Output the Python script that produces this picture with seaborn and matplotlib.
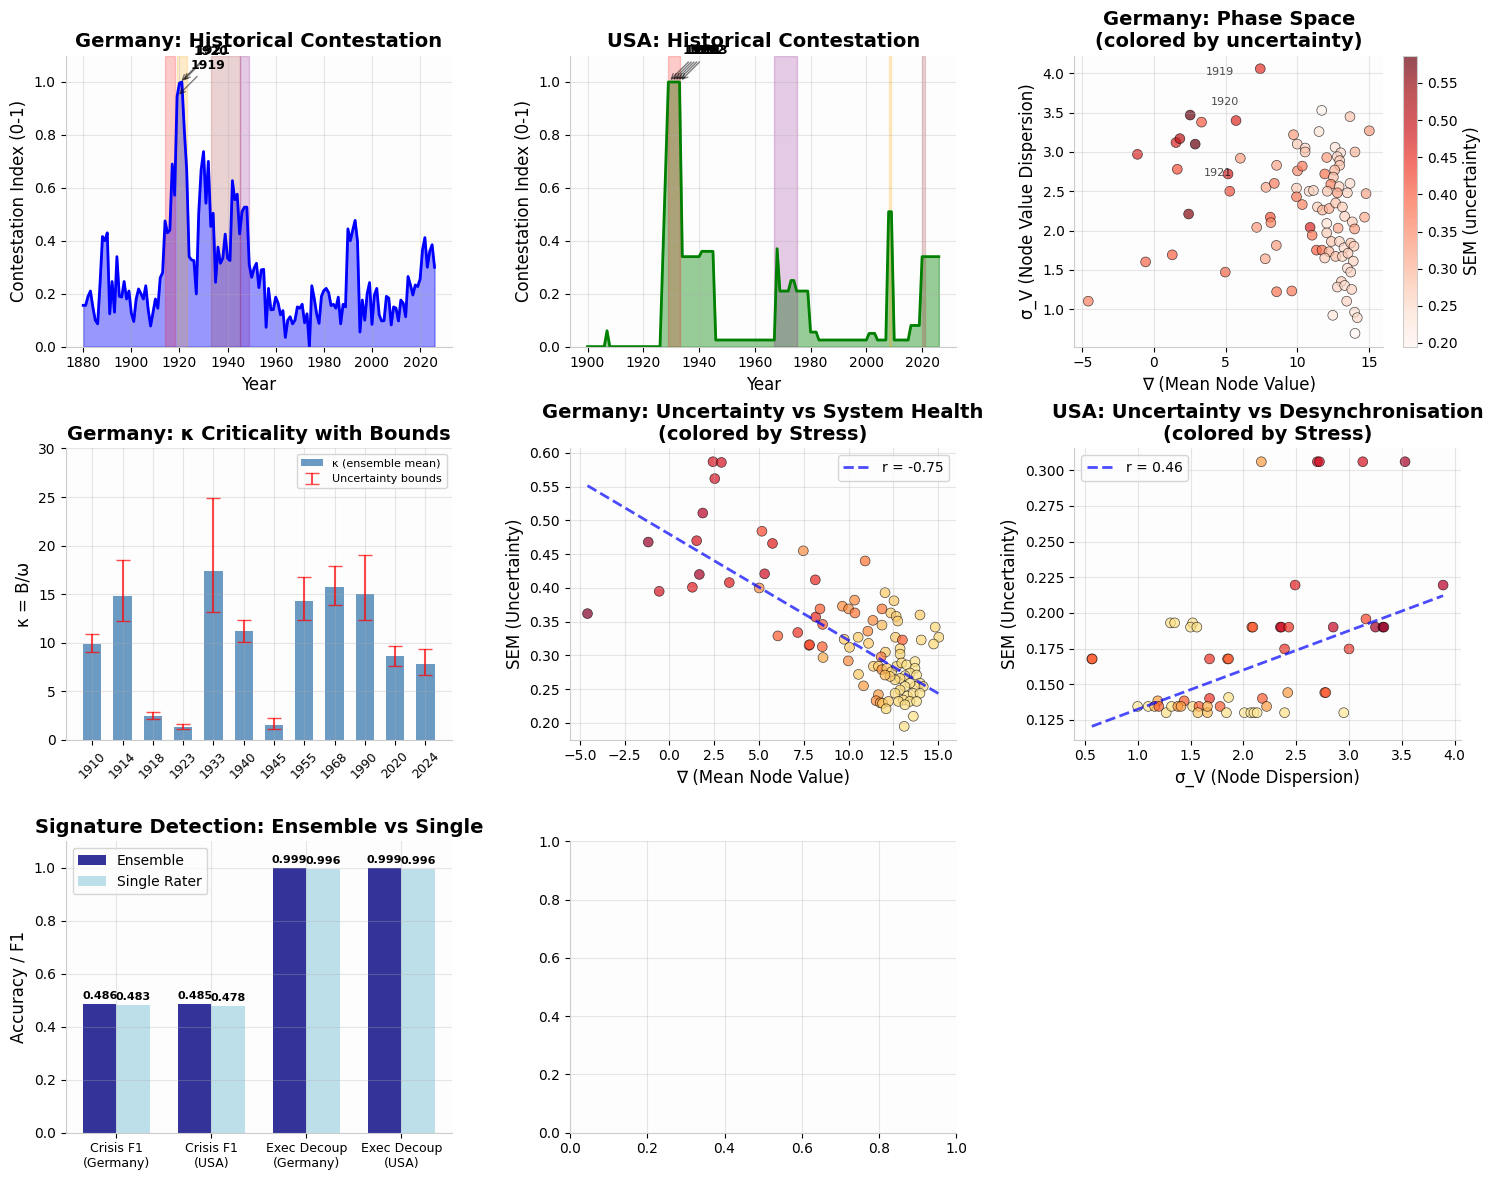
import numpy as np
import pandas as pd
import matplotlib
matplotlib.use("Agg")
import matplotlib.pyplot as plt
import seaborn as sns

# ====== DATA ======
ger_years = list(range(1880, 2027))
ger_contest = [
    0.156, 0.156, 0.19, 0.21, 0.15, 0.10, 0.086, 0.24, 0.416, 0.40,
    0.43, 0.124, 0.246, 0.13, 0.34, 0.19, 0.187, 0.246, 0.18, 0.21,
    0.126, 0.095, 0.18, 0.218, 0.20, 0.18, 0.23, 0.14, 0.078, 0.13,
    0.18, 0.145, 0.26, 0.28, 0.475, 0.43, 0.44, 0.69, 0.572, 0.945,
    0.996, 1.0, 0.82, 0.668, 0.34, 0.328, 0.325, 0.199, 0.504, 0.668,
    0.737, 0.542, 0.70, 0.454, 0.504, 0.243, 0.376, 0.315, 0.334, 0.425,
    0.334, 0.325, 0.627, 0.555, 0.576, 0.426, 0.51, 0.527, 0.527, 0.309,
    0.262, 0.296, 0.315, 0.223, 0.29, 0.292, 0.073, 0.22, 0.139, 0.14,
    0.187, 0.164, 0.12, 0.136, 0.035, 0.10, 0.113, 0.086, 0.10, 0.15,
    0.145, 0.16, 0.09, 0.124, 0.0, 0.23, 0.183, 0.124, 0.088, 0.19,
    0.212, 0.22, 0.204, 0.155, 0.16, 0.145, 0.187, 0.086, 0.16, 0.15,
    0.445, 0.40, 0.44, 0.477, 0.397, 0.055, 0.176, 0.10, 0.20, 0.242,
    0.084, 0.195, 0.22, 0.12, 0.097, 0.098, 0.19, 0.183, 0.082, 0.15,
    0.145, 0.097, 0.176, 0.164, 0.113, 0.265, 0.233, 0.195, 0.233, 0.227,
    0.255, 0.366, 0.412, 0.30, 0.36, 0.385, 0.30,
]
ger_spans = [(1914, 1918, 'red'), (1919, 1923, 'orange'),
             (1933, 1945, 'brown'), (1945, 1949, 'purple')]

usa_years = [1900, 1906, 1907, 1908, 1926, 1929, 1930, 1931, 1932, 1933,
             1934, 1940, 1941, 1945, 1946, 1967, 1968, 1969, 1972, 1973,
             1974, 1975, 1979, 1980, 1982, 1983, 2000, 2001, 2003, 2004,
             2007, 2008, 2009, 2010, 2015, 2016, 2019, 2020, 2026]
usa_contest = [0, 0, 0.06, 0, 0, 1, 1, 1, 1, 1,
               0.34, 0.34, 0.36, 0.36, 0.025, 0.025, 0.37, 0.21, 0.21, 0.25,
               0.25, 0.21, 0.21, 0.055, 0.055, 0.025, 0.025, 0.05, 0.05, 0.025,
               0.025, 0.51, 0.51, 0.025, 0.025, 0.08, 0.08, 0.34, 0.34]
usa_spans = [(1929, 1933, 'red'), (1967, 1975, 'purple'),
             (2008, 2009, 'orange'), (2020, 2021, 'brown')]

# Germany phase space: nabla, sigma_V, SEM
phase_nabla = [
    -4.58, -1.15, -0.58, 1.28, 1.54, 1.63, 1.81, 2.53, 2.42, 2.88, 3.32, 4.98,
    5.17, 5.29, 5.73, 6.03, 7.17, 7.42, 7.77, 7.82, 8.12, 8.16, 8.40, 8.56,
    8.54, 8.56, 9.62, 9.74, 10.0, 10.55, 10.55, 10.02, 10.35, 9.95, 9.95, 10.35,
    10.83, 11.13, 10.9, 11.04, 11.34, 11.73, 11.52, 11.71,
    13.68, 15.03, 12.64, 13.03, 14.03, 12.06, 12.80, 12.96, 12.96, 12.61, 11.92,
    12.52, 12.34, 12.92, 13.68, 12.10, 12.80, 13.50, 14.80, 11.41, 11.76, 12.22,
    12.68, 13.15, 13.31, 14.70, 12.06, 12.85, 13.84, 14.00, 12.06, 12.38, 12.94,
    13.26, 13.73, 13.96, 12.22, 11.92, 12.68, 13.15, 13.54, 13.91, 13.50, 13.73,
    13.08, 12.80, 13.31, 13.80, 13.45, 12.48, 14.00, 14.19, 14.03,
]
phase_sigma = [
    1.10, 2.97, 1.60, 1.69, 3.12, 2.78, 3.17, 3.47, 2.21, 3.10, 3.38, 1.47,
    2.72, 2.50, 3.40, 2.92, 2.04, 4.06, 1.64, 2.55, 2.17, 2.10, 2.60, 2.83,
    1.81, 1.22, 1.23, 3.22, 3.10, 3.05, 3.00, 2.76, 2.82, 2.54, 2.43, 2.33,
    2.50, 2.51, 2.04, 1.94, 1.75, 1.75, 3.26, 3.53,
    3.45, 3.27, 3.06, 2.99, 3.00, 2.93, 2.94, 2.89, 2.83, 2.77, 2.72,
    2.68, 2.59, 2.56, 2.60, 2.50, 2.48, 2.48, 2.47, 2.30, 2.26, 2.28,
    2.35, 2.30, 2.18, 2.17, 2.09, 2.03, 2.11, 2.02, 1.97, 1.86, 1.86,
    1.78, 1.84, 1.80, 1.73, 1.65, 1.67, 1.67, 1.71, 1.61, 1.52, 1.47,
    1.35, 1.28, 1.30, 1.25, 1.10, 0.92, 0.96, 0.89, 0.69,
]
phase_sem = [
    0.362, 0.468, 0.395, 0.401, 0.470, 0.420, 0.511, 0.587, 0.562, 0.586, 0.408, 0.400,
    0.484, 0.421, 0.466, 0.329, 0.334, 0.455, 0.315, 0.316, 0.412, 0.357, 0.369, 0.320,
    0.330, 0.380, 0.374, 0.33, 0.27, 0.26, 0.28, 0.35, 0.37, 0.27, 0.38, 0.36,
    0.25, 0.26, 0.47, 0.38, 0.40, 0.38, 0.24, 0.20,
    0.28, 0.33, 0.24, 0.25, 0.30, 0.33, 0.26, 0.27, 0.28, 0.30, 0.38,
    0.29, 0.36, 0.27, 0.25, 0.28, 0.33, 0.26, 0.32, 0.27, 0.30, 0.31,
    0.28, 0.27, 0.26, 0.31, 0.24, 0.32, 0.27, 0.33, 0.27, 0.28, 0.26,
    0.25, 0.28, 0.27, 0.30, 0.27, 0.29, 0.26, 0.27, 0.26, 0.25, 0.26,
    0.27, 0.26, 0.25, 0.26, 0.26, 0.23, 0.24, 0.25, 0.195,
]
phase_label_text = ['1919', '1920', '1921']
phase_label_x = [3.6, 3.94, 3.48]
phase_label_y = [3.98, 3.60, 2.70]

# Germany kappa criticality
kappa_labels = ['1910', '1914', '1918', '1923', '1933', '1940',
                '1945', '1955', '1968', '1990', '2020', '2024']
kappa_mean = [9.9, 14.76, 2.48, 1.34, 17.34, 11.15, 1.55, 14.24, 15.69, 14.96, 8.57, 7.84]
kappa_low = [9.05, 12.25, 2.17, 1.10, 13.18, 10.08, 1.10, 12.35, 13.9, 12.35, 7.6, 6.67]
kappa_high = [10.9, 18.54, 2.86, 1.62, 24.94, 12.35, 2.24, 16.79, 17.92, 19.06, 9.63, 9.36]

# Germany health: nabla, SEM, stress
health_nabla = [
    -4.57, -1.18, -0.57, 1.28, 1.52, 1.67, 1.86, 2.43, 2.53, 2.90, 3.34, 5.01,
    5.16, 5.31, 5.75, 6.05, 7.16, 7.47, 7.79, 7.82, 8.14, 8.16, 8.40, 8.55,
    8.53, 8.57, 10.92,
    12.03, 12.53, 10.33, 9.65, 10.0, 10.35, 11.86, 12.35, 12.65, 12.74, 13.98,
    11.35, 11.86, 11.07, 10.53, 11.11, 12.61, 13.0, 14.05, 14.83, 15.03, 14.74,
    12.87, 12.87, 12.05, 11.81, 10.55, 10.83, 9.98, 9.75, 10.05,
    11.38, 11.66, 11.85, 12.13, 12.40, 12.68, 12.96, 13.24, 13.70, 13.70, 13.42,
    13.14, 12.87, 12.59, 12.31, 12.03, 13.79, 13.98, 14.16, 13.70, 13.42, 13.14,
    12.87, 12.59, 13.27, 13.60, 13.98, 13.05, 13.42, 13.79, 12.77, 11.66, 11.53,
    11.76, 11.89, 12.22, 12.09, 13.14, 13.61, 13.10,
]
health_sem = [
    0.362, 0.468, 0.395, 0.401, 0.470, 0.420, 0.511, 0.587, 0.562, 0.586, 0.408, 0.400,
    0.484, 0.421, 0.466, 0.329, 0.334, 0.455, 0.315, 0.316, 0.412, 0.357, 0.369, 0.346,
    0.313, 0.297, 0.440,
    0.393, 0.381, 0.382, 0.373, 0.369, 0.363, 0.369, 0.363, 0.358, 0.351, 0.360,
    0.352, 0.345, 0.336, 0.327, 0.318, 0.327, 0.323, 0.323, 0.342, 0.327, 0.317,
    0.310, 0.302, 0.305, 0.298, 0.272, 0.255, 0.292, 0.324, 0.312,
    0.284, 0.284, 0.279, 0.281, 0.276, 0.284, 0.289, 0.286, 0.291, 0.281, 0.274,
    0.270, 0.266, 0.264, 0.269, 0.271, 0.271, 0.259, 0.254, 0.254, 0.259, 0.254,
    0.249, 0.244, 0.240, 0.244, 0.244, 0.234, 0.232, 0.232, 0.232, 0.242, 0.233,
    0.230, 0.229, 0.232, 0.221, 0.227, 0.210, 0.195,
]
health_stress = [
    1.0, 0.95, 0.8, 0.75, 0.8, 0.92, 0.88, 0.8, 0.8, 0.8, 0.75, 0.5,
    0.65, 0.82, 0.75, 0.6, 0.7, 0.5, 0.68, 0.62, 0.72, 0.72, 0.6, 0.6,
    0.6, 0.4, 0.55,
    0.3, 0.3, 0.5, 0.5, 0.5, 0.55, 0.55, 0.3, 0.3, 0.3, 0.3,
    0.5, 0.35, 0.5, 0.3, 0.3, 0.3, 0.6, 0.25, 0.25, 0.25, 0.25,
    0.25, 0.25, 0.3, 0.55, 0.3, 0.45, 0.5, 0.3, 0.3,
    0.3, 0.3, 0.5, 0.3, 0.25, 0.25, 0.25, 0.2, 0.2, 0.2, 0.2,
    0.2, 0.25, 0.25, 0.3, 0.35, 0.2, 0.2, 0.2, 0.2, 0.2, 0.2,
    0.25, 0.25, 0.2, 0.2, 0.2, 0.2, 0.2, 0.2, 0.25, 0.45, 0.5,
    0.45, 0.3, 0.3, 0.25, 0.2, 0.2, 0.2,
]
health_fit = (-0.01573, 0.4797)
health_r = -0.75

# USA desynchronisation: sigma_V, SEM, stress
desync_sigma = [
    2.17, 2.70, 2.72, 3.13, 3.53, 2.49, 3.89, 3.16, 2.85, 3.25, 3.32, 3.33,
    2.35, 2.36, 2.43, 2.08, 2.09, 1.31, 1.35, 1.52, 1.50, 1.56, 3.00, 2.39,
    0.566, 0.57, 1.68, 1.85, 1.86, 2.77, 2.78, 2.42, 1.19, 1.44, 1.68, 1.86,
    2.18, 2.22, 1.00, 1.10, 1.16, 1.20, 1.27, 1.32, 1.38, 1.41, 1.52, 1.58,
    1.57, 1.66, 1.66, 1.78, 1.84, 2.01, 2.07, 2.10, 2.13, 2.39, 2.95,
]
desync_sem = [
    0.306, 0.306, 0.306, 0.306, 0.306, 0.2195, 0.2195, 0.1957, 0.190, 0.190, 0.190, 0.190,
    0.190, 0.190, 0.190, 0.190, 0.190, 0.193, 0.193, 0.193, 0.190, 0.190, 0.1747, 0.1747,
    0.1677, 0.1677, 0.1677, 0.1677, 0.1677, 0.1441, 0.1441, 0.1441, 0.1383, 0.1383, 0.140, 0.1407,
    0.140, 0.1344, 0.1344, 0.1344, 0.1344, 0.1344, 0.130, 0.1344, 0.1344, 0.1344, 0.1344, 0.1344,
    0.130, 0.130, 0.1344, 0.1344, 0.130, 0.130, 0.130, 0.130, 0.130, 0.130, 0.130,
]
desync_stress = [
    0.45, 0.82, 0.82, 0.8, 0.92, 0.75, 0.88, 0.65, 0.85, 0.92, 0.95, 0.95,
    0.82, 0.82, 0.7, 0.6, 0.6, 0.2, 0.2, 0.2, 0.2, 0.2, 0.7, 0.7,
    0.6, 0.6, 0.7, 0.6, 0.6, 0.6, 0.6, 0.45, 0.45, 0.6, 0.7, 0.2,
    0.6, 0.45, 0.15, 0.15, 0.35, 0.6, 0.2, 0.2, 0.45, 0.45, 0.2, 0.6,
    0.3, 0.35, 0.4, 0.6, 0.2, 0.15, 0.15, 0.15, 0.15, 0.2, 0.15,
]
desync_fit = (0.02757, 0.1048)
desync_r = 0.46

# Signature detection
sig_metrics = ['Crisis F1\n(Germany)', 'Crisis F1\n(USA)',
               'Exec Decoup\n(Germany)', 'Exec Decoup\n(USA)']
sig_ensemble = [0.486, 0.485, 0.999, 0.999]
sig_single = [0.483, 0.478, 0.996, 0.996]

# ====== STYLE ======
plt.rcParams['axes.spines.top'] = False
plt.rcParams['axes.spines.right'] = False
plt.rcParams['axes.edgecolor'] = '#cccccc'
plt.rcParams['axes.facecolor'] = '#fdfdfd'

fig = plt.figure(figsize=(14.92, 11.81), dpi=100)
gs = fig.add_gridspec(3, 3, left=0.044, right=0.979, top=0.953, bottom=0.041,
                      wspace=0.305, hspace=0.35)


def contest_panel(ax, years, vals, spans, color, title):
    sns.lineplot(x=years, y=vals, color=color, lw=2, ax=ax)
    ax.fill_between(years, vals, alpha=0.4, color=color)
    for start, end, c in spans:
        ax.axvspan(start, end, alpha=0.2, color=c)
    for yr, v in zip(years, vals):
        if v >= 0.9:
            ax.annotate(str(yr), xy=(yr, v), xytext=(10, 20), textcoords='offset points',
                        fontsize=9, fontweight='bold',
                        arrowprops=dict(arrowstyle='->', color='black', alpha=0.5))
    ax.set_ylim(0, 1.1)
    ax.set_title(title, fontsize=14, fontweight='bold')
    ax.set_xlabel('Year', fontsize=12)
    ax.set_ylabel('Contestation Index (0-1)', fontsize=12)
    ax.grid(True, alpha=0.3)


# ====== ROW 1 ======
contest_panel(fig.add_subplot(gs[0, 0]), ger_years, ger_contest, ger_spans, 'blue',
              'Germany: Historical Contestation')
contest_panel(fig.add_subplot(gs[0, 1]), usa_years, usa_contest, usa_spans, 'green',
              'USA: Historical Contestation')

ax = fig.add_subplot(gs[0, 2])
phase_df = pd.DataFrame({'nabla': phase_nabla, 'sigma': phase_sigma, 'sem': phase_sem})
sem_norm = plt.Normalize(min(phase_sem), max(phase_sem))
sns.scatterplot(data=phase_df, x='nabla', y='sigma', hue='sem', palette='Reds',
                hue_norm=sem_norm, s=50, alpha=0.7, edgecolor='black', linewidth=0.5,
                legend=False, ax=ax)
for txt, tx, ty in zip(phase_label_text, phase_label_x, phase_label_y):
    ax.text(tx, ty, txt, fontsize=8, alpha=0.7)
sm = plt.cm.ScalarMappable(norm=sem_norm, cmap='Reds')
cbar = fig.colorbar(sm, ax=ax, alpha=0.7)
cbar.set_label('SEM (uncertainty)', fontsize=12)
cbar.outline.set_edgecolor('#cccccc')
ax.set_title('Germany: Phase Space\n(colored by uncertainty)', fontsize=14, fontweight='bold')
ax.set_xlabel('∇ (Mean Node Value)', fontsize=12)
ax.set_ylabel('σ_V (Node Value Dispersion)', fontsize=12)
ax.grid(True, alpha=0.3)

# ====== ROW 2 ======
ax = fig.add_subplot(gs[1, 0])
sns.barplot(x=kappa_labels, y=kappa_mean, color='steelblue', alpha=0.8, width=0.6,
            saturation=1, label='κ (ensemble mean)', ax=ax)
k_mean = np.array(kappa_mean)
yerr = [k_mean - np.array(kappa_low), np.array(kappa_high) - k_mean]
ax.errorbar(np.arange(len(kappa_labels)), k_mean, yerr=yerr, fmt='none', ecolor='red',
            alpha=0.7, capsize=5, lw=1.5, label='Uncertainty bounds')
ax.autoscale(enable=True, axis='x')
ax.set_ylim(0, 30)
ax.tick_params(axis='x', rotation=45, labelsize=9)
ax.set_title('Germany: κ Criticality with Bounds', fontsize=14, fontweight='bold')
ax.set_ylabel('κ = B/ω', fontsize=12)
ax.legend(fontsize=8, loc='upper right')
ax.grid(True, alpha=0.3)

ax = fig.add_subplot(gs[1, 1])
health_df = pd.DataFrame({'nabla': health_nabla, 'sem': health_sem, 'stress': health_stress})
sns.scatterplot(data=health_df, x='nabla', y='sem', hue='stress', palette='YlOrRd',
                hue_norm=(0, 1), s=50, alpha=0.7, edgecolor='black', linewidth=0.5,
                legend=False, ax=ax)
xs = np.array([min(health_nabla), max(health_nabla)])
ax.plot(xs, health_fit[0] * xs + health_fit[1], 'b--', alpha=0.7, lw=2,
        label=f'r = {health_r:.2f}')
ax.legend(loc='upper right', fontsize=10)
ax.set_title('Germany: Uncertainty vs System Health\n(colored by Stress)',
             fontsize=14, fontweight='bold')
ax.set_xlabel('∇ (Mean Node Value)', fontsize=12)
ax.set_ylabel('SEM (Uncertainty)', fontsize=12)
ax.grid(True, alpha=0.3)

ax = fig.add_subplot(gs[1, 2])
desync_df = pd.DataFrame({'sigma': desync_sigma, 'sem': desync_sem, 'stress': desync_stress})
sns.scatterplot(data=desync_df, x='sigma', y='sem', hue='stress', palette='YlOrRd',
                hue_norm=(0, 1), s=50, alpha=0.7, edgecolor='black', linewidth=0.5,
                legend=False, ax=ax)
xs = np.array([min(desync_sigma), max(desync_sigma)])
ax.plot(xs, desync_fit[0] * xs + desync_fit[1], 'b--', alpha=0.7, lw=2,
        label=f'r = {desync_r:.2f}')
ax.legend(loc='upper left', fontsize=10)
ax.set_title('USA: Uncertainty vs Desynchronisation\n(colored by Stress)',
             fontsize=14, fontweight='bold')
ax.set_xlabel('σ_V (Node Dispersion)', fontsize=12)
ax.set_ylabel('SEM (Uncertainty)', fontsize=12)
ax.grid(True, alpha=0.3)

# ====== ROW 3 ======
ax = fig.add_subplot(gs[2, 0])
sig_df = pd.DataFrame({
    'metric': sig_metrics * 2,
    'score': sig_ensemble + sig_single,
    'method': ['Ensemble'] * len(sig_metrics) + ['Single Rater'] * len(sig_metrics),
})
sns.barplot(data=sig_df, x='metric', y='score', hue='method', palette=['navy', 'lightblue'],
            alpha=0.8, width=0.7, saturation=1, ax=ax)
for cont in ax.containers:
    ax.bar_label(cont, fmt='%.3f', fontsize=8, fontweight='bold', padding=2)
ax.autoscale(enable=True, axis='x')
ax.set_ylim(0, 1.1)
ax.set_xlabel('')
ax.set_ylabel('Accuracy / F1', fontsize=12)
ax.tick_params(axis='x', labelsize=9)
ax.set_title('Signature Detection: Ensemble vs Single', fontsize=14, fontweight='bold')
ax.legend(loc='upper left', fontsize=10)
ax.grid(True, alpha=0.3)

ax = fig.add_subplot(gs[2, 1])
ax.grid(True, alpha=0.3)

fig.savefig('out.png', dpi=100)
